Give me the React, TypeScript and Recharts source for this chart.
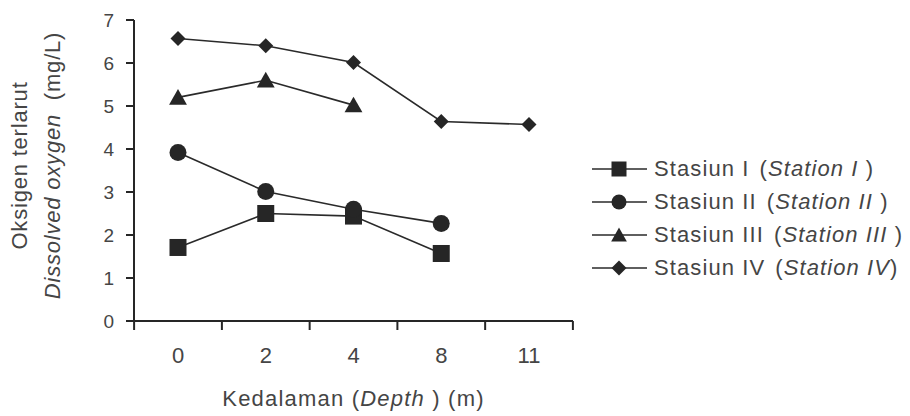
import React from 'react';
import { LineChart, Line, XAxis, YAxis, Legend } from 'recharts';

const depths = ['0', '2', '4', '8', '11'];
const station1 = [1.71, 2.5, 2.44, 1.57, null];
const station2 = [3.92, 3.01, 2.6, 2.27, null];
const station3 = [5.2, 5.6, 5.02, null, null];
const station4 = [6.57, 6.4, 6.01, 4.64, 4.57];
const yTicks = [0, 1, 2, 3, 4, 5, 6, 7];

const seriesInfo = [
  { key: 's1', name: 'Stasiun I', en: 'Station I ', shape: 'square' },
  { key: 's2', name: 'Stasiun II', en: 'Station II ', shape: 'circle' },
  { key: 's3', name: 'Stasiun III', en: 'Station III ', shape: 'triangle' },
  { key: 's4', name: 'Stasiun IV', en: 'Station IV', shape: 'diamond' },
];

const data = depths.map((d, i) => ({
  depth: d,
  s1: station1[i],
  s2: station2[i],
  s3: station3[i],
  s4: station4[i],
}));

const FONT = '"Liberation Sans", Arial, Helvetica, sans-serif';
const TEXT = '#454545';
const AXIS = '#262626';
const LINE = '#2a2a2a';
const MARK = '#262626';

const X_TICK_SIZE = 8;
const X_TICK_MARGIN = 18;

function Marker({ shape, cx, cy, s }: { shape: string; cx: number; cy: number; s: number }) {
  if (cx == null || cy == null || isNaN(cx) || isNaN(cy)) return null;
  const h = s / 2;
  if (shape === 'square') {
    return <rect x={cx - h} y={cy - h} width={s} height={s} fill={MARK} />;
  }
  if (shape === 'circle') {
    return <circle cx={cx} cy={cy} r={h} fill={MARK} />;
  }
  if (shape === 'triangle') {
    return (
      <polygon
        points={`${cx},${cy - h} ${cx + h * 1.05},${cy + h * 0.85} ${cx - h * 1.05},${cy + h * 0.85}`}
        fill={MARK}
      />
    );
  }
  const d = h;
  return (
    <polygon points={`${cx},${cy - d} ${cx + d},${cy} ${cx},${cy + d} ${cx - d},${cy}`} fill={MARK} />
  );
}

const makeDot = (shape: string) => (props: any) => {
  const { cx, cy, value, key } = props;
  if (value == null) return <g key={key} />;
  return (
    <g key={key}>
      <Marker shape={shape} cx={cx} cy={cy} s={shape === 'diamond' ? 15 : 17} />
    </g>
  );
};

const XTick = (props: any) => {
  const { x, y, payload, index, width, visibleTicksCount } = props;
  const band = width && visibleTicksCount ? width / visibleTicksCount : 88;
  const y1 = y - X_TICK_MARGIN - X_TICK_SIZE;
  const y2 = y - X_TICK_MARGIN + 1;
  return (
    <g>
      <text x={x} y={y} dy="0.71em" textAnchor="middle" fontSize={22} fill={TEXT} fontFamily={FONT}>
        {payload.value}
      </text>
      <line x1={x + band / 2} x2={x + band / 2} y1={y1} y2={y2} stroke={AXIS} strokeWidth={2} />
      {index === 0 ? (
        <line x1={x - band / 2} x2={x - band / 2} y1={y1} y2={y2} stroke={AXIS} strokeWidth={2} />
      ) : null}
    </g>
  );
};

const YLabel = (props: any) => {
  const vb = props.viewBox || { x: 0, y: 20, width: 134, height: 301 };
  const cy = vb.y + vb.height / 2 - 5;
  const x1 = vb.x + 19;
  const x2 = vb.x + 52;
  return (
    <g fontFamily={FONT} fontSize={22} fill={TEXT} letterSpacing={0.8}>
      <text
        x={x1}
        y={cy}
        textAnchor="middle"
        dominantBaseline="central"
        transform={`rotate(-90 ${x1} ${cy})`}
      >
        Oksigen terlarut
      </text>
      <text
        x={x2}
        y={cy}
        textAnchor="middle"
        dominantBaseline="central"
        transform={`rotate(-90 ${x2} ${cy})`}
        style={{ whiteSpace: 'pre' }}
      >
        <tspan fontStyle="italic">Dissolved oxygen</tspan>
        <tspan>{'  (mg/L)'}</tspan>
      </text>
    </g>
  );
};

const XLabel = (props: any) => {
  const vb = props.viewBox || { x: 134, y: 321, width: 439, height: 95 };
  const cx = vb.x + vb.width / 2;
  const cy = vb.y + 77;
  return (
    <text
      x={cx}
      y={cy}
      textAnchor="middle"
      dominantBaseline="central"
      fontFamily={FONT}
      fontSize={22}
      fill={TEXT}
      letterSpacing={1.2}
      style={{ whiteSpace: 'pre' }}
    >
      <tspan>{'Kedalaman ('}</tspan>
      <tspan fontStyle="italic">Depth</tspan>
      <tspan>{' ) (m)'}</tspan>
    </text>
  );
};

const LegendContent = () => (
  <div style={{ width: 320, fontFamily: FONT, fontSize: 22, color: TEXT, letterSpacing: 1.1 }}>
    {seriesInfo.map((s) => (
      <div key={s.key} style={{ display: 'flex', alignItems: 'center', height: 33 }}>
        <svg width={60} height={24} style={{ flex: '0 0 auto' }}>
          <line x1={2} x2={57} y1={12} y2={12} stroke={LINE} strokeWidth={1.5} />
          <Marker shape={s.shape} cx={29} cy={12} s={15} />
        </svg>
        <span style={{ whiteSpace: 'pre', marginLeft: 4 }}>
          {s.name}
          <span style={{ marginLeft: 10 }}>{'('}</span>
          <i>{s.en}</i>
          {')'}
        </span>
      </div>
    ))}
  </div>
);

export default function App() {
  return (
    <div style={{ position: 'absolute', left: 0, top: 0, width: 910, height: 416, background: '#fff' }}>
      <LineChart
        width={910}
        height={416}
        data={data}
        margin={{ top: 20, right: 17, bottom: 0, left: 0 }}
      >
        <XAxis
          dataKey="depth"
          type="category"
          padding={{ left: 44, right: 44 }}
          height={95}
          tickSize={X_TICK_SIZE}
          tickMargin={X_TICK_MARGIN}
          tickLine={{ stroke: 'none' }}
          axisLine={{ stroke: AXIS, strokeWidth: 2 }}
          tick={<XTick />}
          interval={0}
          label={{ content: <XLabel /> } as any}
        />
        <YAxis
          domain={[0, 7]}
          ticks={yTicks}
          width={134}
          tickSize={8}
          tickMargin={12}
          interval={0}
          axisLine={{ stroke: AXIS, strokeWidth: 2 }}
          tickLine={{ stroke: AXIS, strokeWidth: 2 }}
          tick={{ fontSize: 19, fill: TEXT, fontFamily: FONT }}
          label={{ content: <YLabel /> } as any}
        />
        <Legend
          layout="vertical"
          align="right"
          verticalAlign="middle"
          content={<LegendContent />}
          wrapperStyle={{ left: 590, top: 152, width: 320 }}
        />
        {seriesInfo.map((s) => (
          <Line
            key={s.key}
            dataKey={s.key}
            name={s.name}
            stroke={LINE}
            strokeWidth={1.6}
            dot={makeDot(s.shape)}
            activeDot={false}
            isAnimationActive={false}
            connectNulls={false}
            legendType="none"
          />
        ))}
      </LineChart>
    </div>
  );
}
